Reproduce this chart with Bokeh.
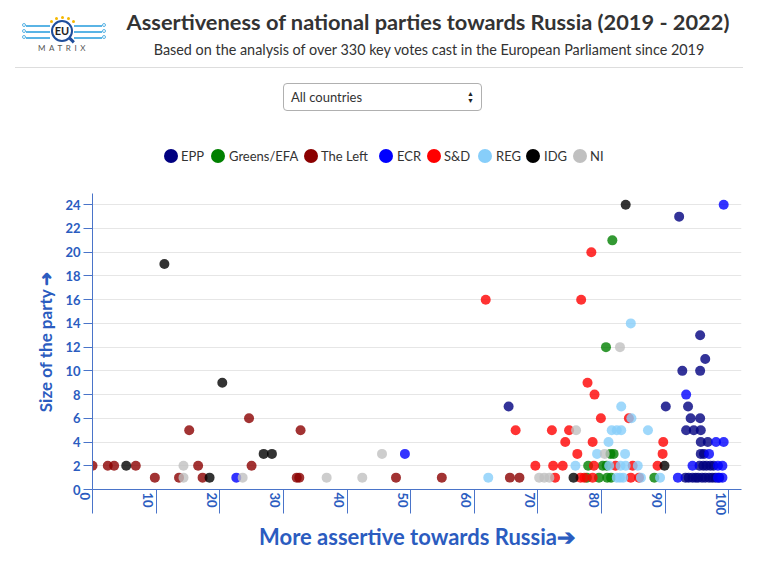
from bokeh.plotting import figure
from bokeh.layouts import column
from bokeh.models import FixedTicker, ColumnDataSource, Range1d, Div
from bokeh.embed import file_html
from bokeh.resources import INLINE

# ---------------- data ----------------
party_names = ["EPP", "Greens/EFA", "The Left", "ECR", "S&D", "REG", "IDG", "NI"]
party_colors = ["#000080", "#008000", "#8B0000", "#0000FF", "#FF0000", "#87CEFA", "#000000", "#C0C0C0"]

epp_x = [65.4, 92.2, 95.5, 96.3, 92.7, 95.5, 90.1, 93.6, 94.0, 95.5, 93.3, 94.5, 95.6,
         95.6, 96.7, 95.6, 96.1, 95.4, 96.0, 96.5, 97.1, 97.6,
         93.2, 93.7, 94.3, 94.8, 95.2, 95.8, 96.3, 96.9, 97.4, 97.9, 98.5]
epp_y = [7, 23, 13, 11, 10, 10, 7, 7, 6, 6, 5, 5, 5,
         4, 4, 3, 3, 2, 2, 2, 2, 2,
         1, 1, 1, 1, 1, 1, 1, 1, 1, 1, 1]

greens_x = [81.7, 80.7, 81.4, 81.9, 77.9, 80.2, 80.8, 77.7, 79.6, 80.9, 81.5, 88.3]
greens_y = [21, 12, 3, 3, 2, 2, 2, 1, 1, 1, 1, 1]

left_x = [0.0, 2.4, 3.4, 6.8, 9.8, 13.6, 15.2, 16.6, 17.3, 24.6, 25.0, 32.1, 32.5, 32.7,
          47.7, 54.9, 65.6, 67.1]
left_y = [2, 2, 2, 2, 1, 1, 5, 2, 1, 6, 2, 1, 1, 5, 1, 1, 1, 1]

ecr_x = [22.6, 49.1, 99.2, 93.3, 98.0, 99.2, 96.9, 94.3, 98.3, 99.0, 92.0, 98.3, 99.0]
ecr_y = [1, 3, 24, 8, 4, 4, 3, 2, 2, 2, 1, 1, 1]

sd_x = [61.8, 76.8, 78.4, 77.8, 78.9, 79.9, 84.3, 66.5, 72.2, 74.9, 74.3, 78.6, 89.7,
        76.2, 89.6, 69.6, 72.4, 73.9, 78.8, 82.2, 84.9, 88.8,
        72.7, 76.7, 77.3, 78.6, 84.6, 85.9]
sd_y = [16, 16, 20, 9, 8, 6, 6, 5, 5, 5, 4, 4, 4,
        3, 3, 2, 2, 2, 2, 2, 2, 2,
        1, 1, 1, 1, 1, 1]

reg_x = [62.2, 84.6, 83.1, 84.7, 81.1, 81.6, 82.4, 83.1, 87.3, 79.3, 83.7,
         75.9, 81.2, 83.0, 83.8, 85.7, 82.4, 82.9, 83.4, 86.2, 89.2]
reg_y = [1, 14, 7, 6, 4, 5, 5, 5, 5, 3, 3,
         2, 2, 2, 2, 2, 1, 1, 1, 1, 1]

idg_x = [5.3, 11.3, 18.4, 20.4, 26.9, 28.2, 83.8, 75.6, 89.9]
idg_y = [2, 19, 1, 9, 3, 3, 24, 1, 2]

ni_x = [14.3, 14.3, 23.6, 36.8, 42.4, 45.5, 70.2, 71.0, 71.8, 76.0, 80.5, 82.9]
ni_y = [1, 2, 1, 1, 1, 3, 1, 1, 1, 5, 3, 12]

series_x = [epp_x, greens_x, left_x, ecr_x, sd_x, reg_x, idg_x, ni_x]
series_y = [epp_y, greens_y, left_y, ecr_y, sd_y, reg_y, idg_y, ni_y]

x_ticks = list(range(0, 101, 10))
y_ticks = list(range(0, 25, 2))

title_text = "Assertiveness of national parties towards Russia (2019 - 2022)"
subtitle_text = "Based on the analysis of over 330 key votes cast in the European Parliament since 2019"
select_text = "All countries"
x_label = "More assertive towards Russia\u2794"
y_label = "Size of the party \u279C"

# ---------------- style ----------------
FONT = "Lato"
AX_BLUE = "#2b5cc0"
AX_LINE = "#4a74c9"
W = 757
HEAD_H = 175

# ---------------- header (HTML) ----------------
def ab(style, inner=""):
    return f'<div style="position:absolute;{style}">{inner}</div>'

circuit = ""
for yy in (25, 31, 37):
    circuit += ab(f"left:26px;top:{yy}px;width:24px;height:1.5px;background:#5ab4e5;")
    circuit += ab(f"left:22px;top:{yy-2}px;width:4px;height:4px;border:1px solid #5ab4e5;border-radius:50%;box-sizing:border-box;")
    circuit += ab(f"left:74px;top:{yy}px;width:28px;height:1.5px;background:#5ab4e5;")
    circuit += ab(f"left:102px;top:{yy-2}px;width:4px;height:4px;border:1px solid #5ab4e5;border-radius:50%;box-sizing:border-box;")
stars = ""
for sx, sy in ((51, 21), (56, 18), (62, 17), (68, 18), (73, 21)):
    stars += ab(f"left:{sx-1.5}px;top:{sy-1.5}px;width:3.5px;height:3.5px;background:#f5b800;border-radius:50%;")
logo = (circuit + stars +
        ab("left:67px;top:38px;width:8px;height:3px;background:#1f4e9c;transform:rotate(45deg);") +
        ab("left:51px;top:20px;width:22px;height:22px;border:2.5px solid #1f4e9c;border-radius:50%;"
           "background:white;box-sizing:border-box;text-align:center;line-height:17px;"
           "font-size:11px;font-weight:bold;color:#222;", "EU") +
        ab("left:38px;top:44px;width:60px;font-size:8px;letter-spacing:3.6px;color:#555;line-height:9px;", "MATRIX"))

# legend entries (circle centre x, label start x) in page pixels
legend_pos = [(171, 181), (218, 229), (311, 321), (386, 397), (434, 444), (485, 496), (533, 544), (580, 590)]
legend_html = ""
for (cx, tx), name, col in zip(legend_pos, party_names, party_colors):
    legend_html += ab(f"left:{cx-7}px;top:149px;width:14px;height:14px;border-radius:50%;background:{col};")
    legend_html += ab(f"left:{tx}px;top:148px;font-size:13px;line-height:16px;white-space:nowrap;color:#333;",
                      name.replace("&", "&amp;"))

header_html = (
    f'<div style="position:relative;width:{W}px;height:{HEAD_H}px;font-family:{FONT};color:#333;">'
    + logo
    + ab("left:428px;top:10px;transform:translateX(-50%);white-space:nowrap;font-size:21.8px;"
         "font-weight:bold;line-height:24px;", title_text)
    + ab("left:429px;top:41px;transform:translateX(-50%);white-space:nowrap;font-size:14.4px;"
         "line-height:18px;", subtitle_text)
    + ab("left:15px;top:67px;width:728px;height:1px;background:#dddddd;")
    + ab("left:283px;top:83px;width:199px;height:28px;border:1px solid #b0b0b0;border-radius:4px;"
         "box-sizing:border-box;background:white;",
         ab("left:7px;top:0;line-height:26px;font-size:13px;", select_text)
         + ab("right:7px;top:6px;font-size:7px;line-height:7px;color:#222;", "\u25B2<br>\u25BC"))
    + legend_html
    + '</div>'
)
header = Div(text=header_html, width=W, height=HEAD_H, margin=(0, 0, 0, 0))

# ---------------- main figure ----------------
p = figure(width=W, height=381, output_backend="svg", toolbar_location=None,
           x_range=Range1d(0, 102), y_range=Range1d(0, 24.95),
           min_border_left=92, min_border_right=16, min_border_top=18, min_border_bottom=67,
           background_fill_color="white", border_fill_color="white")
p.outline_line_color = None

for name, col, xs, ys in zip(party_names, party_colors, series_x, series_y):
    src = ColumnDataSource(dict(x=xs, y=ys))
    p.scatter("x", "y", source=src, size=10, fill_color=col, line_color=None, fill_alpha=0.8)

xa = p.xaxis[0]
xa.ticker = FixedTicker(ticks=x_ticks)
xa.major_label_overrides = {t: f"\n{t}" for t in x_ticks}
xa.major_label_orientation = "vertical"
xa.major_label_text_line_height = 1.0
xa.major_tick_out = 24
xa.major_tick_in = 0
xa.major_label_standoff = -21
xa.minor_tick_line_color = None
xa.axis_line_color = AX_LINE
xa.major_tick_line_color = AX_LINE
xa.major_label_text_color = AX_BLUE
xa.major_label_text_font = FONT
xa.major_label_text_font_style = "bold"
xa.major_label_text_font_size = "13px"
xa.axis_label = x_label
xa.axis_label_text_font = FONT
xa.axis_label_text_font_style = "bold"
xa.axis_label_text_font_size = "22px"
xa.axis_label_text_color = AX_BLUE
xa.axis_label_standoff = 5

ya = p.yaxis[0]
ya.ticker = FixedTicker(ticks=y_ticks)
ya.major_tick_out = 9
ya.major_tick_in = 0
ya.major_label_standoff = 3
ya.minor_tick_line_color = None
ya.axis_line_color = AX_LINE
ya.major_tick_line_color = AX_LINE
ya.major_label_text_color = AX_BLUE
ya.major_label_text_font = FONT
ya.major_label_text_font_style = "bold"
ya.major_label_text_font_size = "13px"
ya.axis_label = y_label
ya.axis_label_text_font = FONT
ya.axis_label_text_font_style = "bold"
ya.axis_label_text_font_size = "17px"
ya.axis_label_text_color = AX_BLUE
ya.axis_label_standoff = 6

p.xgrid.visible = False
p.ygrid.ticker = FixedTicker(ticks=y_ticks)
p.ygrid.grid_line_color = "#e6e6e6"

layout = column(header, p, spacing=0)
open("out.html", "w").write(file_html(layout, INLINE))
